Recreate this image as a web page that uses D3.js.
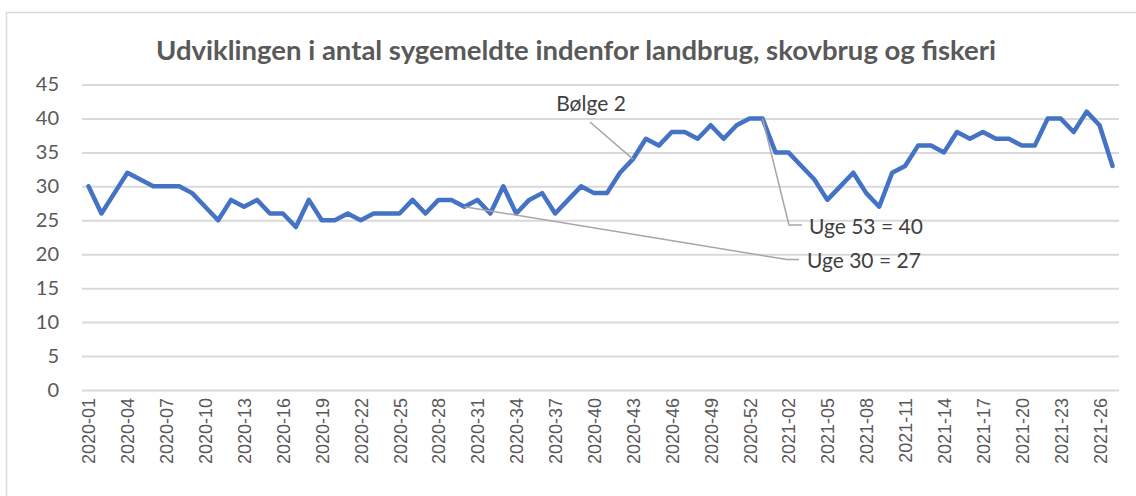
<!DOCTYPE html>
<html>
<head>
<meta charset="utf-8">
<script src="https://cdn.jsdelivr.net/npm/d3@7"></script>
<style>
  html, body { margin: 0; padding: 0; background: #fff; }
  svg { display: block; }
</style>
</head>
<body>
<svg id="chart" width="1136" height="496"></svg>
<script>
// --- data ---
const TITLE = 'Udviklingen i antal sygemeldte indenfor landbrug, skovbrug og fiskeri';

const WEEKS_2020 = d3.range(1, 54).map(w => `2020-${String(w).padStart(2, '0')}`);
const WEEKS_2021 = d3.range(1, 28).map(w => `2021-${String(w).padStart(2, '0')}`);
const WEEKS = WEEKS_2020.concat(WEEKS_2021);

const VALUES_2020 = [
  30, 26, 29, 32, 31, 30, 30, 30, 29, 27,
  25, 28, 27, 28, 26, 26, 24, 28, 25, 25,
  26, 25, 26, 26, 26, 28, 26, 28, 28, 27,
  28, 26, 30, 26, 28, 29, 26, 28, 30, 29,
  29, 32, 34, 37, 36, 38, 38, 37, 39, 37,
  39, 40, 40
];
const VALUES_2021 = [
  35, 35, 33, 31, 28, 30, 32, 29, 27, 32,
  33, 36, 36, 35, 38, 37, 38, 37, 37, 36,
  36, 40, 40, 38, 41, 39, 33
];
const VALUES = VALUES_2020.concat(VALUES_2021);

const Y_TICKS = [0, 5, 10, 15, 20, 25, 30, 35, 40, 45];
// every third week gets a label
const X_TICKS = WEEKS.filter((d, i) => i % 3 === 0);

const NOTES = [
  { week: '2020-43', text: 'Bølge 2' },
  { week: '2020-53', text: 'Uge 53 = 40' },
  { week: '2020-30', text: 'Uge 30 = 27' },
];

// --- layout ---
const PLOT = { left: 82, right: 1119, top: 84.5, bottom: 390 };
const LINE_COLOR = '#4472C4';
const GRID_COLOR = '#d9d9d9';
const TEXT_COLOR = '#595959';
const LEADER_COLOR = '#a6a6a6';

const svg = d3.select('#chart');

// chart border (runs off right / bottom edge)
svg.append('rect')
  .attr('x', 6.5).attr('y', 12.5)
  .attr('width', 1200).attr('height', 600)
  .attr('fill', 'none')
  .attr('stroke', GRID_COLOR).attr('stroke-width', 1.5);

svg.append('text')
  .attr('x', 576).attr('y', 60)
  .attr('text-anchor', 'middle')
  .attr('font-family', 'Lato, sans-serif')
  .attr('font-weight', 'bold')
  .attr('font-size', 27.5)
  .attr('fill', TEXT_COLOR)
  .text(TITLE);

const x = d3.scalePoint()
  .domain(WEEKS)
  .range([PLOT.left, PLOT.right])
  .padding(0.5);

const y = d3.scaleLinear()
  .domain([0, 45])
  .range([PLOT.bottom, PLOT.top]);

// gridlines + y labels
const yAxis = svg.append('g')
  .attr('transform', `translate(${PLOT.left},0)`)
  .call(d3.axisLeft(y).tickValues(Y_TICKS).tickSize(-(PLOT.right - PLOT.left)).tickPadding(23));
yAxis.select('.domain').remove();
yAxis.selectAll('.tick line')
  .attr('stroke', GRID_COLOR).attr('stroke-width', 2);
yAxis.selectAll('.tick text')
  .attr('font-family', 'Lato, sans-serif')
  .attr('font-size', 20)
  .attr('fill', TEXT_COLOR);

// x labels, rotated
const xAxis = svg.append('g')
  .attr('transform', `translate(0,${PLOT.bottom})`)
  .call(d3.axisBottom(x).tickValues(X_TICKS).tickSize(0));
xAxis.select('.domain').remove();
xAxis.selectAll('.tick text')
  .attr('font-family', '"Liberation Sans", Arial, sans-serif')
  .attr('font-size', 18)
  .attr('fill', TEXT_COLOR)
  .attr('text-anchor', 'end')
  .attr('transform', 'rotate(-90)')
  .attr('x', -8)
  .attr('y', 0)
  .attr('dy', '0.36em');

// series
const line = d3.line()
  .x((d, i) => x(WEEKS[i]))
  .y(d => y(d));

svg.append('path')
  .attr('d', line(VALUES))
  .attr('fill', 'none')
  .attr('stroke', LINE_COLOR)
  .attr('stroke-width', 4.5)
  .attr('stroke-linejoin', 'round')
  .attr('stroke-linecap', 'round');

// --- annotations ---
const valueAt = wk => VALUES[WEEKS.indexOf(wk)];
const gNotes = svg.append('g');

function leader(points) {
  gNotes.append('path')
    .attr('d', d3.line()(points))
    .attr('fill', 'none')
    .attr('stroke', LEADER_COLOR)
    .attr('stroke-width', 1.5);
}
function label(px, py, text, anchor) {
  gNotes.append('text')
    .attr('x', px).attr('y', py)
    .attr('dy', '0.35em')
    .attr('text-anchor', anchor)
    .attr('font-family', 'Lato, sans-serif')
    .attr('font-size', 21)
    .attr('fill', '#404040')
    .text(text);
}

// Bølge 2
{
  const n = NOTES[0];
  const px = x(n.week), py = y(valueAt(n.week));
  leader([[590, 122], [px, py]]);
  label(591, 104, n.text, 'middle');
}
// Uge 53
{
  const n = NOTES[1];
  const px = x(n.week), py = y(valueAt(n.week));
  leader([[px, py], [789, 225], [802, 225]]);
  label(809, 227, n.text, 'start');
}
// Uge 30
{
  const n = NOTES[2];
  const px = x(n.week), py = y(valueAt(n.week));
  leader([[px, py], [787, 259.5], [799, 259.5]]);
  label(807, 261, n.text, 'start');
}
</script>
</body>
</html>
